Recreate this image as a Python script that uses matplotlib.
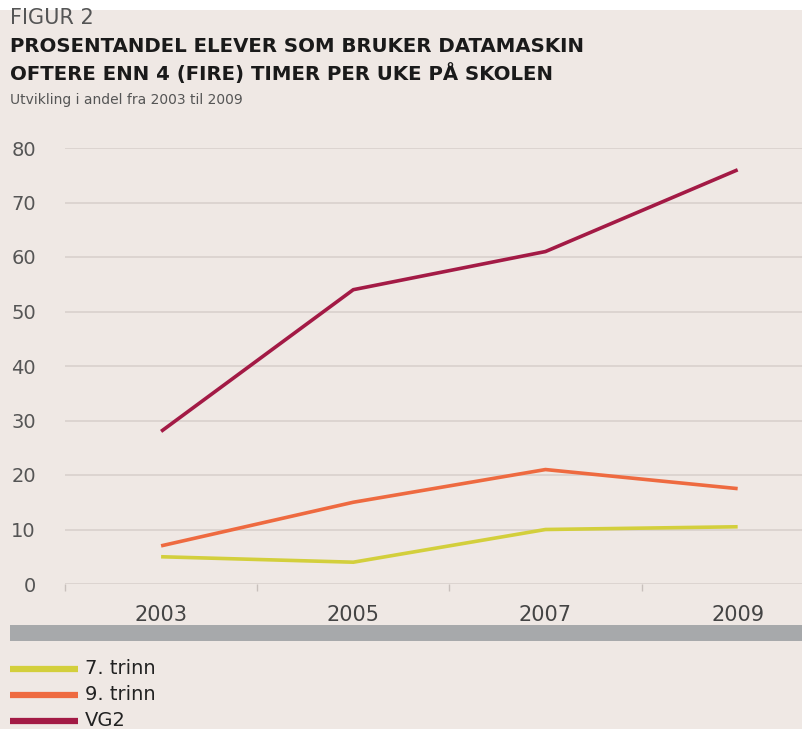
import matplotlib.pyplot as plt
from matplotlib.lines import Line2D
from matplotlib.patches import Rectangle

years = ['2003', '2005', '2007', '2009']
trinn7 = [5, 4, 10, 10.5]
trinn9 = [7, 15, 21, 17.5]
vg2 = [28, 54, 61, 76]
series_names = ['7. trinn', '9. trinn', 'VG2']
colors = ['#d3cf3c', '#ee6a40', '#a31a45']

plt.rcParams['font.family'] = ['DejaVu Sans']
bg = '#efe8e4'
W, H = 803, 729

fig = plt.figure(figsize=(W / 100, H / 100), dpi=100)
fig.patch.set_facecolor('white')
# beige panel below the thin white strip at the top
fig.add_artist(Rectangle((0, 0), 1, 1 - 10 / H, transform=fig.transFigure,
                         facecolor=bg, edgecolor='none', zorder=-10))

ax = fig.add_axes([65 / W, 1 - 584 / H, 1 - 65 / W, (584 - 148) / H])
ax.set_facecolor('none')
x = list(range(len(years)))
for vals, c in zip([trinn7, trinn9, vg2], colors):
    ax.plot(x, vals, color=c, lw=2.6, solid_capstyle='butt', zorder=3)

ax.set_xlim(-0.5, 3.34)
ax.set_ylim(0, 80)
ax.set_yticks(range(0, 81, 10))
ax.grid(axis='y', color='#dcd4d0', lw=1.4)
ax.set_axisbelow(True)
for s in ax.spines.values():
    s.set_visible(False)
ax.tick_params(axis='y', length=0, pad=21, labelsize=14, labelcolor='#555555')
ax.set_xticks(x)
ax.set_xticklabels(years)
ax.tick_params(axis='x', length=0, pad=15, labelsize=15, labelcolor='#444444')
ax.set_xticks([-0.5, 0.5, 1.5, 2.5], minor=True)
ax.tick_params(axis='x', which='minor', length=5, width=1, color='#c8c0bc',
               direction='out')

# headings
fig.text(10 / W, 1 - 18 / H, 'FIGUR 2', fontsize=15, color='#555555',
         va='center', ha='left')
fig.text(10 / W, 1 - 47 / H, 'PROSENTANDEL ELEVER SOM BRUKER DATAMASKIN',
         fontsize=14.2, fontweight='bold', color='#1a1a1a', va='center', ha='left')
fig.text(10 / W, 1 - 74 / H, 'OFTERE ENN 4 (FIRE) TIMER PER UKE PÅ SKOLEN',
         fontsize=14.2, fontweight='bold', color='#1a1a1a', va='center', ha='left')
fig.text(10 / W, 1 - 100 / H, 'Utvikling i andel fra 2003 til 2009',
         fontsize=10, color='#555555', va='center', ha='left')

# grey separator band
fig.add_artist(Rectangle((10 / W, 1 - 641 / H), 1 - 10 / W, 16 / H,
                         transform=fig.transFigure, facecolor='#a7a9ab',
                         edgecolor='none'))

# legend
for i, (name, c) in enumerate(zip(series_names, colors)):
    yy = 1 - (669 + 26 * i) / H
    fig.add_artist(Line2D([10 / W, 78 / W], [yy, yy], transform=fig.transFigure,
                          color=c, lw=4.5, solid_capstyle='butt'))
    fig.text(85 / W, yy, name, fontsize=14, color='#222222', va='center',
             ha='left')

fig.savefig('out.png', dpi=100, facecolor=fig.get_facecolor())
